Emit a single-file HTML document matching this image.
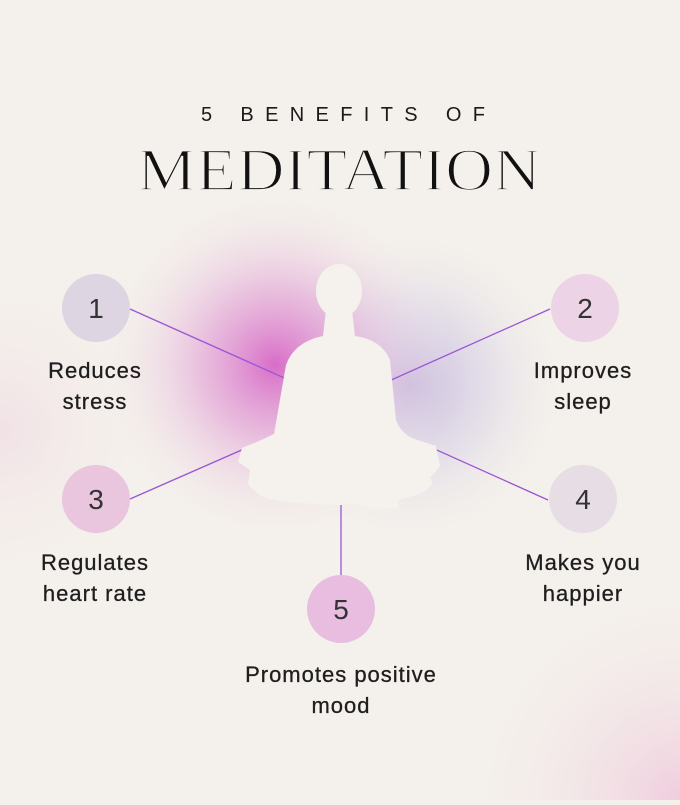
<!DOCTYPE html>
<html><head><meta charset="utf-8"><style>
html,body{margin:0;padding:0;}
body{width:680px;height:800px;overflow:hidden;background:#f4f0eb;}
</style></head><body>
<svg width="680" height="800" viewBox="0 0 680 800" xmlns="http://www.w3.org/2000/svg">
<defs>
<radialGradient id="g1" cx="275" cy="365" r="175" gradientUnits="userSpaceOnUse">
<stop offset="0" stop-color="#d766c6" stop-opacity="0.95"/>
<stop offset="0.4" stop-color="#e19ed5" stop-opacity="0.65"/>
<stop offset="1" stop-color="#f4f0eb" stop-opacity="0"/>
</radialGradient>
<radialGradient id="g2" cx="410" cy="385" r="160" gradientUnits="userSpaceOnUse">
<stop offset="0" stop-color="#c2b2dc" stop-opacity="0.85"/>
<stop offset="0.5" stop-color="#d6cfe6" stop-opacity="0.5"/>
<stop offset="1" stop-color="#f4f0eb" stop-opacity="0"/>
</radialGradient>
<radialGradient id="g3" cx="680" cy="800" r="220" gradientUnits="userSpaceOnUse">
<stop offset="0" stop-color="#efc9dc" stop-opacity="0.9"/>
<stop offset="1" stop-color="#f4f0eb" stop-opacity="0"/>
</radialGradient>
<radialGradient id="g4" cx="0" cy="430" r="160" gradientUnits="userSpaceOnUse">
<stop offset="0" stop-color="#f0d7e3" stop-opacity="0.6"/>
<stop offset="1" stop-color="#f4f0eb" stop-opacity="0"/>
</radialGradient>
</defs>
<rect width="680" height="800" fill="#f4f0eb"/>
<rect width="680" height="800" fill="url(#g4)"/>
<rect width="680" height="800" fill="url(#g3)"/>
<rect width="680" height="800" fill="url(#g2)"/>
<rect width="680" height="800" fill="url(#g1)"/>

<g stroke="#9a55d6" stroke-width="1.3">
<line x1="130" y1="309" x2="300" y2="385"/>
<line x1="550" y1="309" x2="380" y2="385"/>
<line x1="130" y1="499" x2="310" y2="420"/>
<line x1="548" y1="500" x2="370" y2="420"/>
<line x1="341" y1="505" x2="341" y2="576"/>
</g>

<!-- silhouette -->
<g fill="#f5f1ec">
<ellipse cx="339" cy="291" rx="23" ry="27"/>
<path d="M326 310 L352 310 L355 336 Q382 340 390 360 L396 420 Q402 436 418 440 L436 446 L440 466 Q430 484 400 488 L398 508 Q370 512 345 500 Q300 508 265 498 Q245 488 250 470 L238 462 L242 448 Q262 440 274 434 L286 365 Q294 342 323 336 Z"/>
<ellipse cx="340" cy="482" rx="92" ry="23"/>
<ellipse cx="337" cy="420" rx="42" ry="60"/>
</g>

<!-- circles -->
<circle cx="96" cy="308" r="34" fill="#ddd5e2"/>
<circle cx="585" cy="308" r="34" fill="#edd3e6"/>
<circle cx="96" cy="499" r="34" fill="#eac5de"/>
<circle cx="583" cy="499" r="34" fill="#e6dde5"/>
<circle cx="341" cy="609" r="34" fill="#e8bde0"/>

<g font-family="Liberation Sans, sans-serif" fill="#333" font-size="28" text-anchor="middle">
<text x="96" y="318">1</text>
<text x="585" y="318">2</text>
<text x="96" y="509">3</text>
<text x="583" y="509">4</text>
<text x="341" y="619">5</text>
</g>

<g font-family="Liberation Sans, sans-serif" fill="#1e1e1e" font-size="22" text-anchor="middle" letter-spacing="1" stroke="#1e1e1e" stroke-width="0.3">
<text x="95" y="378">Reduces</text>
<text x="95" y="409">stress</text>
<text x="583" y="378">Improves</text>
<text x="583" y="409">sleep</text>
<text x="95" y="570">Regulates</text>
<text x="95" y="601">heart rate</text>
<text x="583" y="570">Makes you</text>
<text x="583" y="601">happier</text>
<text x="341" y="682">Promotes positive</text>
<text x="341" y="713">mood</text>
</g>

<text x="201" y="121" font-family="Liberation Sans, sans-serif" font-size="20" fill="#1a1a1a" textLength="284" lengthAdjust="spacing">5 BENEFITS OF</text>
<text x="137" y="190" font-family="Liberation Serif, serif" font-size="60" fill="#111" stroke="#f4f0eb" stroke-width="1.6" paint-order="stroke" textLength="404" lengthAdjust="spacingAndGlyphs" style="font-weight:normal">MEDITATION</text>
<text x="137" y="190" font-family="Liberation Serif, serif" font-size="60" fill="none" stroke="#f4f0eb" stroke-width="1.8" textLength="404" lengthAdjust="spacingAndGlyphs">MEDITATION</text>
</svg>
</body></html>
